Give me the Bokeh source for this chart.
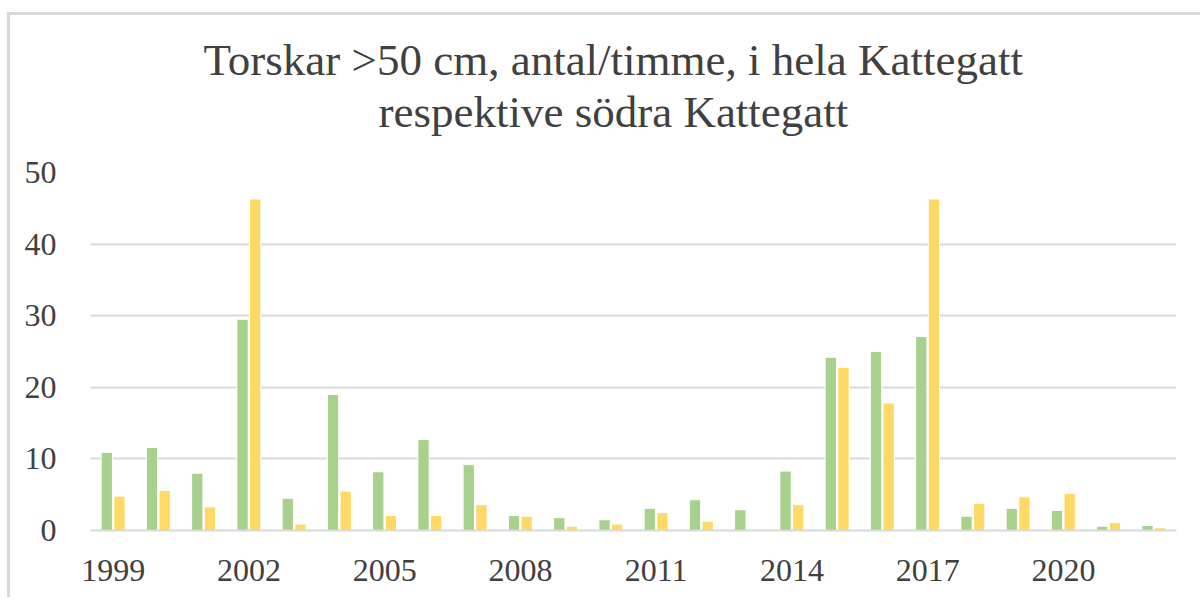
from bokeh.plotting import figure
from bokeh.models import Range1d, FixedTicker, ColumnDataSource, Title
from bokeh.transform import dodge
from bokeh.embed import file_html
from bokeh.resources import INLINE

years = [1999, 2000, 2001, 2002, 2003, 2004, 2005, 2006, 2007, 2008, 2009, 2010,
         2011, 2012, 2013, 2014, 2015, 2016, 2017, 2018, 2019, 2020, 2021, 2022]
hela_kattegatt = [10.9, 11.6, 8.0, 29.5, 4.5, 19.0, 8.2, 12.7, 9.2, 2.1, 1.8, 1.5,
                  3.1, 4.3, 2.9, 8.3, 24.2, 25.0, 27.1, 2.0, 3.1, 2.8, 0.6, 0.7]
sodra_kattegatt = [4.8, 5.6, 3.3, 46.3, 0.9, 5.5, 2.1, 2.1, 3.6, 2.0, 0.6, 0.9,
                   2.5, 1.3, float("nan"), 3.6, 22.8, 17.8, 46.3, 3.8, 4.7, 5.2, 1.1, 0.4]
x_ticks = [1999, 2002, 2005, 2008, 2011, 2014, 2017, 2020]
y_ticks = [0, 10, 20, 30, 40, 50]
title_line1 = "Torskar >50 cm, antal/timme, i hela Kattegatt"
title_line2 = "respektive södra Kattegatt"

GREEN = "#A9D18E"
YELLOW = "#FFD966"
TEXT = "#404040"
GRID = "#D9D9D9"
FONT = "Liberation Serif"

src = ColumnDataSource(dict(year=years, hela=hela_kattegatt, sodra=sodra_kattegatt))

p = figure(width=1193, height=585,
           x_range=Range1d(years[0] - 0.5, years[-1] + 0.5),
           y_range=Range1d(0, 50),
           output_backend="svg", toolbar_location=None,
           min_border_left=80, min_border_right=27,
           min_border_top=157, min_border_bottom=70)
p.styles = {"border-left": "3px solid #D9D9D9", "border-top": "3px solid #D9D9D9",
            "margin-top": "12px", "margin-left": "7px"}

p.vbar(x=dodge("year", -0.14), top="hela", width=0.25, source=src,
       fill_color=GREEN, line_color="white", line_width=1)
p.vbar(x=dodge("year", 0.14), top="sodra", width=0.25, source=src,
       fill_color=YELLOW, line_color="white", line_width=1)

t2 = Title(text=title_line2, align="left", offset=288, text_font=FONT,
           text_font_size="45px", text_font_style="normal", text_color=TEXT,
           standoff=72)
t1 = Title(text=title_line1, align="left", offset=113, text_font=FONT,
           text_font_size="45px", text_font_style="normal", text_color=TEXT,
           standoff=-72)
p.add_layout(t2, "above")
p.add_layout(t1, "above")

p.outline_line_color = None
p.background_fill_color = "white"
p.border_fill_color = "white"

p.xgrid.grid_line_color = None
p.ygrid.grid_line_color = GRID
p.ygrid.grid_line_width = 2
p.ygrid.ticker = FixedTicker(ticks=y_ticks)

p.xaxis.ticker = FixedTicker(ticks=x_ticks)
p.yaxis.ticker = FixedTicker(ticks=y_ticks)
for ax in (p.xaxis[0], p.yaxis[0]):
    ax.major_tick_line_color = None
    ax.minor_tick_line_color = None
    ax.major_label_text_font = FONT
    ax.major_label_text_font_size = "32px"
    ax.major_label_text_color = TEXT
p.yaxis.axis_line_color = None
p.xaxis.axis_line_color = GRID
p.xaxis.axis_line_width = 2
p.yaxis.major_label_standoff = 28
p.xaxis.major_label_standoff = 23

open("out.html", "w").write(file_html(p, INLINE))
